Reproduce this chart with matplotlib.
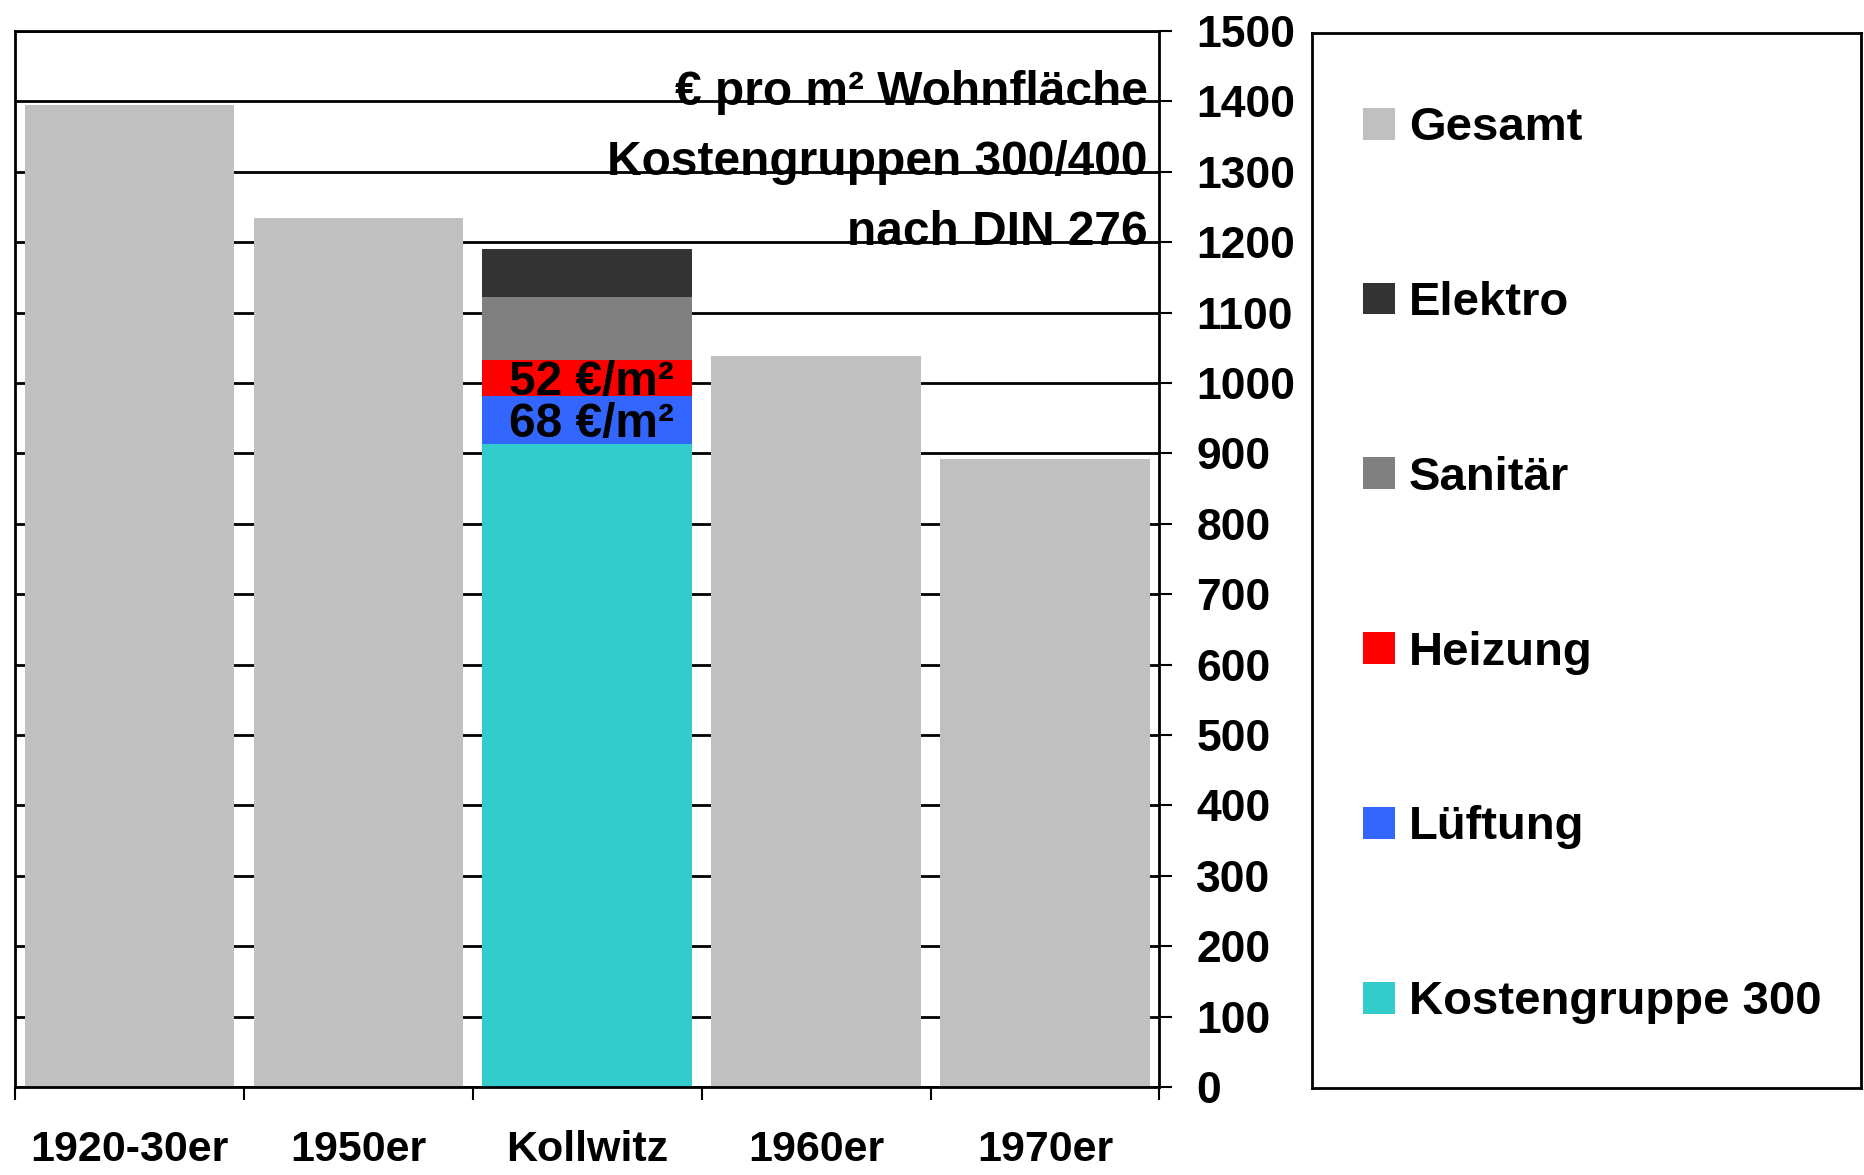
import matplotlib.pyplot as plt
from matplotlib.patches import Patch
import numpy as np

# categories and values (EUR per m2 living area)
categories = ['1920-30er', '1950er', 'Kollwitz', '1960er', '1970er']
gesamt = [1395, 1234, 0, 1038, 892]
kg300 = [0, 0, 913, 0, 0]
lueftung = [0, 0, 68, 0, 0]
heizung = [0, 0, 52, 0, 0]
sanitaer = [0, 0, 89, 0, 0]
elektro = [0, 0, 68, 0, 0]

stack_names = ['Kostengruppe 300', 'Lüftung', 'Heizung', 'Sanitär', 'Elektro']
stack_values = [kg300, lueftung, heizung, sanitaer, elektro]
legend_order = ['Gesamt', 'Elektro', 'Sanitär', 'Heizung', 'Lüftung', 'Kostengruppe 300']

title_lines = ['€ pro m² Wohnfläche', 'Kostengruppen 300/400', 'nach DIN 276']

colors = {
    'Gesamt': '#c0c0c0',
    'Elektro': '#333333',
    'Sanitär': '#808080',
    'Heizung': '#ff0000',
    'Lüftung': '#3366ff',
    'Kostengruppe 300': '#33cccc',
}

plt.rcParams['font.family'] = ['Liberation Sans', 'DejaVu Sans']
plt.rcParams['font.weight'] = 'bold'

fig = plt.figure(figsize=(18.64, 11.75), dpi=100)
ax = fig.add_axes([0.008, 0.0749, 0.6140, 0.8987])

x = np.arange(len(categories))
width = 0.915

ax.bar(x, gesamt, width=width, color=colors['Gesamt'], zorder=2)
bottom = np.zeros(len(categories))
for name, vals in zip(stack_names, stack_values):
    ax.bar(x, vals, width=width, bottom=bottom, color=colors[name], zorder=2)
    bottom += np.array(vals)

# value labels for heating and ventilation
k = categories.index('Kollwitz')
ax.text(x[k] + 0.02, kg300[k] + lueftung[k] / 2 - 6, f'{lueftung[k]} €/m²', ha='center',
        va='center', fontsize=34.5, fontweight='bold', zorder=4)
ax.text(x[k] + 0.02, kg300[k] + lueftung[k] + heizung[k] / 2 - 6, f'{heizung[k]} €/m²',
        ha='center', va='center', fontsize=34.5, fontweight='bold', zorder=4)

# chart title inside the plot area
for i, line in enumerate(title_lines):
    ax.text(4.45, 1412 - i * 99, line, ha='right', va='center', fontsize=34.5,
            fontweight='bold', zorder=5)

ax.set_xlim(-0.5, len(categories) - 0.5)
ax.set_ylim(0, 1500)
ax.set_yticks(np.arange(0, 1501, 100))
ax.yaxis.tick_right()
ax.grid(axis='y', color='black', linewidth=2, zorder=1)
ax.set_axisbelow(True)

ax.set_xticks(np.arange(-0.5, len(categories)), minor=False)
ax.set_xticklabels([])
ax.set_xticks(x, minor=True)
ax.set_xticklabels(categories, minor=True)
ax.tick_params(axis='x', which='major', direction='out', length=9.5, width=1.5)
ax.tick_params(axis='x', which='minor', length=0, pad=31, labelsize=31)
ax.tick_params(axis='y', direction='out', length=9.5, width=1.5, pad=17, labelsize=32)
for lab in ax.get_xticklabels(minor=True) + ax.get_yticklabels():
    lab.set_fontweight('bold')

for side in ['left', 'right', 'top', 'bottom']:
    ax.spines[side].set_linewidth(2)
    ax.spines[side].set_color('black')

# legend in its own framed box
ax_leg = fig.add_axes([0.7039, 0.0740, 0.2945, 0.8979])
ax_leg.set_xticks([])
ax_leg.set_yticks([])
for side in ['left', 'right', 'top', 'bottom']:
    ax_leg.spines[side].set_linewidth(2)
handles = [Patch(facecolor=colors[n], edgecolor='none') for n in legend_order]
ax_leg.legend(handles, legend_order, loc='center left', bbox_to_anchor=(0.016, 0.4955),
              frameon=False, prop={'weight': 'bold', 'size': 34},
              labelspacing=2.77, handlelength=0.66, handleheight=0.66, handletextpad=0.3)

plt.savefig('out.png', dpi=100)
